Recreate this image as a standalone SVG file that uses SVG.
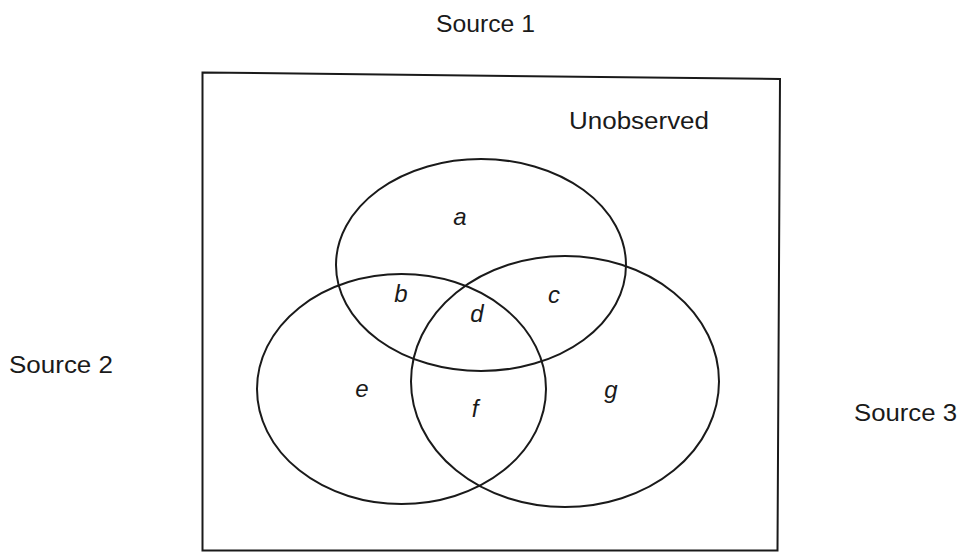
<svg xmlns="http://www.w3.org/2000/svg" width="961" height="552" viewBox="0 0 961 552">
<style>
.ln{fill:none;stroke:#1a1a1a;stroke-width:2}
.lbl{font-family:"Liberation Sans",Arial,sans-serif;fill:#1a1a1a}
.big{font-size:23px}
.it{font-size:24px;font-style:italic;text-anchor:middle}
</style>
<rect width="961" height="552" fill="#ffffff"/>
<g id="frame">
<path class="ln" d="M202.5,72.5 L780,79 L777.5,550.5 L202.5,550.5 Z"/>
<text class="lbl big" x="569" y="129" textLength="140" lengthAdjust="spacingAndGlyphs">Unobserved</text>
</g>
<g id="source1">
<ellipse class="ln" cx="481" cy="265" rx="145" ry="106"/>
<text class="lbl big" x="436" y="32" textLength="99" lengthAdjust="spacingAndGlyphs">Source 1</text>
</g>
<g id="source2">
<ellipse class="ln" cx="401.5" cy="389" rx="144.5" ry="115"/>
<text class="lbl big" x="9" y="373" textLength="104" lengthAdjust="spacingAndGlyphs">Source 2</text>
</g>
<g id="source3">
<ellipse class="ln" cx="565" cy="381.5" rx="154" ry="125.5"/>
<text class="lbl big" x="854" y="421" textLength="103" lengthAdjust="spacingAndGlyphs">Source 3</text>
</g>
<g id="regions">
<text class="lbl it" x="460" y="225">a</text>
<text class="lbl it" x="401" y="302">b</text>
<text class="lbl it" x="554" y="303">c</text>
<text class="lbl it" x="477" y="322">d</text>
<text class="lbl it" x="362" y="397">e</text>
<text class="lbl it" x="475" y="417">f</text>
<text class="lbl it" x="611" y="398">g</text>
</g>
<g id="connectors"></g>
</svg>
